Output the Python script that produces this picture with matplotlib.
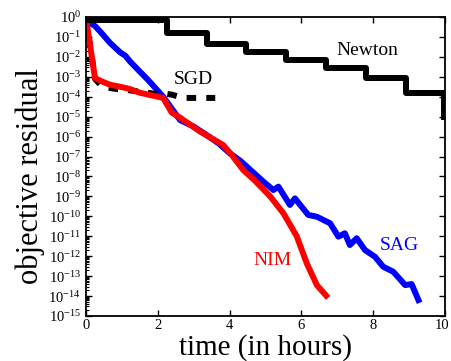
import numpy as np
import matplotlib
matplotlib.use("Agg")
from matplotlib import pyplot as plt
from matplotlib.ticker import LogLocator, NullFormatter
from matplotlib.transforms import ScaledTranslation

plt.rcParams['font.family'] = 'Liberation Serif'
plt.rcParams['mathtext.fontset'] = 'custom'
plt.rcParams['mathtext.rm'] = 'Liberation Serif'
plt.rcParams['mathtext.it'] = 'Liberation Serif:italic'

# Newton: step curve (hours, log10 residual)
newton_t = [0, 2.26, 3.36, 4.47, 5.57, 6.69, 7.80, 8.91, 9.97, 9.97]
newton_e = [-0.15, -0.80, -1.34, -1.76, -2.16, -2.56, -3.06, -3.80, -3.80, -5.0]

# SGD (dashed)
sgd_t = [0, 0.25, 0.45, 0.8, 1.1, 1.5, 1.9, 2.15, 2.4, 2.7, 3.0, 3.6]
sgd_e = [-0.05, -3.1, -3.5, -3.6, -3.65, -3.75, -3.85, -3.83, -3.9, -4.06, -4.06, -4.06]

# NIM (red)
nim_t = [0, 0.25, 0.4, 0.67, 0.95, 1.2, 1.5, 2.15, 2.39, 2.62, 3.18, 3.82,
         4.06, 4.38, 4.7, 5.13, 5.5, 5.87, 6.15, 6.43, 6.69]
nim_e = [-0.05, -3.06, -3.2, -3.4, -3.5, -3.6, -3.8, -4.06, -4.8, -5.05, -5.75, -6.42,
         -6.92, -7.68, -8.2, -9.0, -9.85, -11.0, -12.36, -13.45, -13.98]

# SAG (blue)
sag_t = [0, 0.11, 0.25, 0.39, 0.55, 0.67, 0.95, 1.1, 1.23, 1.5, 1.73, 2.15, 2.62, 3.0,
         3.36, 3.7, 4.0, 4.29, 4.66, 4.94, 5.22, 5.36, 5.68, 5.82, 6.19, 6.43, 6.8,
         7.03, 7.21, 7.35, 7.54, 7.77, 8.05, 8.28, 8.56, 8.89, 9.07, 9.26]
sag_e = [-0.1, -0.3, -0.45, -0.72, -1.05, -1.3, -1.77, -1.95, -2.24, -2.74, -3.16, -4.0,
         -5.17, -5.5, -5.92, -6.35, -6.83, -7.2, -7.8, -8.26, -8.68, -8.51, -9.43, -9.1,
         -9.93, -10.02, -10.35, -11.02, -10.85, -11.44, -11.1, -11.69, -12.03, -12.53,
         -12.78, -13.45, -13.4, -14.2]

fig = plt.figure(figsize=(4.51, 3.61), dpi=100)
ax = fig.add_axes([0.1907, 0.1247, 0.796, 0.8282])

lw = 4.3
ax.plot(sag_t, 10.0 ** np.array(sag_e), color='#0000ff', lw=lw)
ax.plot(sgd_t, 10.0 ** np.array(sgd_e), color='black', lw=lw, dashes=(1.6, 1.7))
ax.plot(nim_t, 10.0 ** np.array(nim_e), color='#ff0000', lw=lw)
ax.step(newton_t, 10.0 ** np.array(newton_e), where='post', color='black', lw=lw)

ax.set_yscale('log')
ax.set_xlim(0, 10)
ax.set_ylim(1e-15, 1)
ax.set_xticks([0, 2, 4, 6, 8, 10])
ax.yaxis.set_major_locator(LogLocator(base=10, numticks=30))
ax.yaxis.set_minor_locator(LogLocator(base=10, subs=np.arange(2, 10), numticks=300))
ax.yaxis.set_minor_formatter(NullFormatter())

ax.tick_params(axis='both', which='major', direction='in', top=True, right=True,
               length=4, width=1, labelsize=10.5)
ax.tick_params(axis='y', which='minor', direction='in', left=True, right=False,
               length=2, width=0.8)
ax.tick_params(axis='x', pad=2)
for s in ax.spines.values():
    s.set_linewidth(1.3)

fig.canvas.draw()
last = ax.get_xticklabels()[-1]
last.set_transform(last.get_transform() + ScaledTranslation(-3 / 100, 0, fig.dpi_scale_trans))

ax.set_xlabel('time (in hours)', fontsize=21)
ax.xaxis.set_label_coords(0.5, -0.06)
ax.set_ylabel('objective residual', fontsize=22)
ax.yaxis.set_label_coords(-0.115, 0.468)

ax.text(7.83, 10 ** -1.66, 'Newton', fontsize=14, ha='center', va='center')
ax.text(3.0, 10 ** -3.16, 'SGD', fontsize=14, ha='center', va='center')
ax.text(5.2, 10 ** -12.2, 'NIM', fontsize=14, ha='center', va='center', color='#ff0000')
ax.text(8.72, 10 ** -11.44, 'SAG', fontsize=14, ha='center', va='center', color='#0000ff')

fig.savefig('out.png', dpi=100)
